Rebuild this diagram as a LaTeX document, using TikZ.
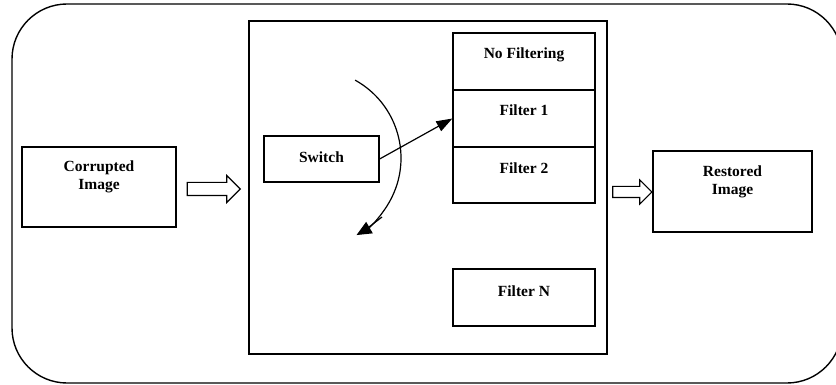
\documentclass[tikz,border=0pt]{standalone}
\usepackage{fontspec}
\setmainfont{Liberation Serif}
\usetikzlibrary{arrows.meta,shapes.arrows}
\tikzset{
  box/.style={draw, line width=1.2pt, inner sep=0pt},
  lbl/.style={font=\bfseries\fontsize{15.5}{18}\selectfont, align=center, inner sep=0pt},
  blockarrow/.style={single arrow, draw, line width=1.1pt, inner xsep=0pt, shape border rotate=0},
  conn/.style={line width=1.2pt},
}
\begin{document}
\begin{tikzpicture}[x=1pt,y=-1pt]
\useasboundingbox (0,0) rectangle (836,385);
\begin{scope}
\clip (0,0) rectangle (836,385);
\draw[line width=1.4pt, rounded corners=55pt] (12,4) rectangle (842,383);
\end{scope}
% boxes
\node[box, minimum width=154pt, minimum height=80pt] (corr) at (99,187) {};
\node[lbl] (corrt) at (99,177) {Corrupted\\Image};
\node[box, minimum width=358pt, minimum height=333pt] (mid) at (428,187.5) {};
\node[box, minimum width=115pt, minimum height=46pt] (sw) at (321.5,159) {};
\node[lbl] (swt) at (321.5,157) {Switch};
\node[box, minimum width=142pt, minimum height=57pt] (nf) at (524,61.5) {};
\node[lbl] (nft) at (524,55) {No Filtering};
\node[box, minimum width=142pt, minimum height=57pt] (f1) at (524,118.5) {};
\node[lbl] (f1t) at (524,110) {Filter 1};
\node[box, minimum width=142pt, minimum height=56pt] (f2) at (524,175) {};
\node[lbl] (f2t) at (524,168) {Filter 2};
\node[box, minimum width=142pt, minimum height=57pt] (fn) at (524,297.5) {};
\node[lbl] (fnt) at (524,291) {Filter N};
\node[box, minimum width=159pt, minimum height=81pt] (rest) at (732.5,191.5) {};
\node[lbl] (restt) at (732.5,181.5) {Restored\\Image};
% hollow arrows
\node[blockarrow, minimum height=53pt, inner ysep=6pt, single arrow head extend=7pt] (a1) at (210.5,189) {};
\node[blockarrow, minimum height=39pt, inner ysep=5pt, single arrow head extend=6.5pt] (a2) at (629.5,192) {};
% switch connector
\draw[conn, -{Triangle[length=16pt,width=11pt]}] (sw.east) -- (f1.west);
% rotation arc
\coordinate (arcc) at (312,158);
\draw[conn, -{Triangle[length=15pt,width=13pt]}] (arcc) ++(-61:89) arc[start angle=-61, end angle=60, radius=89];
\draw[conn] (382,217) -- (369,227);
\end{tikzpicture}
\end{document}
